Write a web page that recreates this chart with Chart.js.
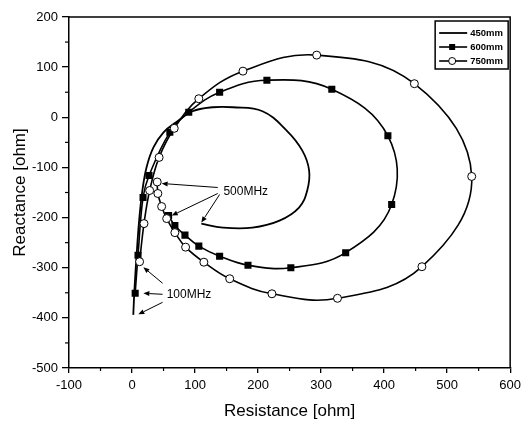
<!DOCTYPE html>
<html>
<head>
<meta charset="utf-8">
<script src="https://cdn.jsdelivr.net/npm/chart.js@4.4.0/dist/chart.umd.min.js"></script>
<style>
  html, body { margin: 0; padding: 0; background: #fff; }
</style>
</head>
<body>
<canvas id="chart" width="526" height="425"></canvas>
<script>
// 450mm: line only, 100MHz -> 500MHz
const x450 = [2, 4, 7, 11, 16, 23, 34, 50, 70, 96, 128, 160, 207, 245, 270, 281, 278, 265, 234, 191, 144, 110];
const y450 = [-394, -340, -280, -210, -150, -100, -60, -30, -10, 12, 20, 20, 12, -26, -66, -106, -146, -180, -206, -220, -220, -212];

// 600mm: filled squares
const x600 = [5, 9.5, 17.5, 27, 60, 90, 139, 214, 317, 406, 412, 339, 252, 184, 139, 106, 84, 68, 58];
const y600 = [-351, -275, -160, -116, -30, 10, 50, 74, 56, -37, -174, -270, -300, -295, -277, -257, -235, -216, -196];

// 750mm: open circles
const x750 = [12, 19, 28, 43, 67, 106, 176, 293, 448, 539, 460, 326, 222, 155, 114, 85, 68, 55, 47, 41, 40];
const y750 = [-288, -212, -146, -80, -22, 37, 92, 124, 67, -118, -298, -361, -352, -322, -289, -259, -230, -202, -178, -152, -129];

const seriesNames = ['450mm', '600mm', '750mm'];

// frequency callouts (data coords): [fromX, fromY, toX, toY]
const label500 = { text: '500MHz', x: 145, y: -148 };
const arrows500 = [[136, -140, 47, -132], [136, -152, 63, -196], [139, -154, 110, -210]];
const label100 = { text: '100MHz', x: 55, y: -353 };
const arrows100 = [[48.5, -331, 18, -299], [48.5, -353, 18, -351], [48.5, -369, 10, -393]];

const FONT = "'Liberation Sans', Arial, sans-serif";

function toPoints(xs, ys) {
    return xs.map((x, i) => ({ x: x, y: ys[i] }));
}

function drawArrow(ctx, x1, y1, x2, y2) {
    const ang = Math.atan2(y2 - y1, x2 - x1);
    const len = 6, half = 2.5;
    ctx.beginPath();
    ctx.moveTo(x1, y1);
    ctx.lineTo(x2 - Math.cos(ang) * len, y2 - Math.sin(ang) * len);
    ctx.stroke();
    ctx.beginPath();
    ctx.moveTo(x2, y2);
    ctx.lineTo(x2 - Math.cos(ang) * len - Math.sin(ang) * half, y2 - Math.sin(ang) * len + Math.cos(ang) * half);
    ctx.lineTo(x2 - Math.cos(ang) * len + Math.sin(ang) * half, y2 - Math.sin(ang) * len - Math.cos(ang) * half);
    ctx.closePath();
    ctx.fill();
}

const extras = {
    id: 'extras',
    afterDraw(chart) {
        const ctx = chart.ctx;
        const a = chart.chartArea;
        const sx = chart.scales.x, sy = chart.scales.y;
        ctx.save();
        ctx.strokeStyle = '#000';
        ctx.fillStyle = '#000';

        // top and right frame
        ctx.lineWidth = 1.5;
        ctx.beginPath();
        ctx.moveTo(a.left, a.top);
        ctx.lineTo(a.right, a.top);
        ctx.lineTo(a.right, a.bottom);
        ctx.stroke();

        // minor ticks
        ctx.lineWidth = 1.2;
        for (let v = -50; v < 600; v += 100) {
            const px = sx.getPixelForValue(v);
            ctx.beginPath(); ctx.moveTo(px, a.bottom); ctx.lineTo(px, a.bottom + 3); ctx.stroke();
        }
        for (let v = -450; v < 200; v += 100) {
            const py = sy.getPixelForValue(v);
            ctx.beginPath(); ctx.moveTo(a.left - 4, py); ctx.lineTo(a.left, py); ctx.stroke();
        }

        // callouts
        ctx.lineWidth = 1;
        ctx.font = '12px ' + FONT;
        ctx.textBaseline = 'middle';
        [[label500, arrows500], [label100, arrows100]].forEach(([lab, arr]) => {
            ctx.fillText(lab.text, sx.getPixelForValue(lab.x), sy.getPixelForValue(lab.y));
            arr.forEach(r => drawArrow(ctx,
                sx.getPixelForValue(r[0]), sy.getPixelForValue(r[1]),
                sx.getPixelForValue(r[2]), sy.getPixelForValue(r[3])));
        });

        // legend box
        const bx = a.right - 75, by = a.top + 4, bw = 73, bh = 48;
        ctx.lineWidth = 1.5;
        ctx.strokeRect(bx, by, bw, bh);
        ctx.font = 'bold 9.5px ' + FONT;
        chart.data.datasets.forEach((ds, i) => {
            const ly = by + 12 + i * 14;
            ctx.lineWidth = ds.borderWidth;
            ctx.beginPath(); ctx.moveTo(bx + 4, ly); ctx.lineTo(bx + 32, ly); ctx.stroke();
            if (ds.pointRadius > 0) {
                const mx = bx + 17;
                if (ds.pointStyle === 'rect') {
                    ctx.fillRect(mx - 3, ly - 3, 6, 6);
                } else {
                    ctx.beginPath(); ctx.arc(mx, ly, 3.5, 0, Math.PI * 2);
                    ctx.fillStyle = '#fff'; ctx.fill();
                    ctx.lineWidth = 1; ctx.stroke();
                    ctx.fillStyle = '#000';
                }
            }
            ctx.fillText(ds.label, bx + 35, ly + 0.5);
        });
        ctx.restore();
    }
};

new Chart(document.getElementById('chart'), {
    type: 'scatter',
    data: {
        datasets: [
            {
                label: seriesNames[0], data: toPoints(x450, y450), showLine: true,
                borderColor: '#000', borderWidth: 1.8, pointRadius: 0, tension: 0.4, order: 3
            },
            {
                label: seriesNames[1], data: toPoints(x600, y600), showLine: true,
                borderColor: '#000', borderWidth: 1.6, tension: 0.4, order: 2,
                pointStyle: 'rect', pointRadius: 5, pointBackgroundColor: '#000',
                pointBorderColor: '#000', pointBorderWidth: 0
            },
            {
                label: seriesNames[2], data: toPoints(x750, y750), showLine: true,
                borderColor: '#000', borderWidth: 1.6, tension: 0.4, order: 1,
                pointStyle: 'circle', pointRadius: 4, pointBackgroundColor: '#fff',
                pointBorderColor: '#000', pointBorderWidth: 1
            }
        ]
    },
    options: {
        responsive: false,
        animation: false,
        layout: { padding: { left: 0, top: 17, right: 14, bottom: 0 } },
        plugins: { legend: { display: false }, tooltip: { enabled: false } },
        scales: {
            x: {
                type: 'linear', min: -100, max: 600,
                ticks: { stepSize: 100, color: '#000', padding: 5, font: { size: 13, family: FONT } },
                grid: { drawOnChartArea: false, tickLength: 5, color: '#000', lineWidth: 1.3 },
                border: { color: '#000', width: 1.5 },
                title: { display: true, text: 'Resistance [ohm]', color: '#000', font: { size: 17, family: FONT }, padding: { top: 0, bottom: 3 } },
                afterFit(s) { s.height = 57; }
            },
            y: {
                type: 'linear', min: -500, max: 200,
                ticks: { stepSize: 100, color: '#000', padding: 4, font: { size: 13, family: FONT } },
                grid: { drawOnChartArea: false, tickLength: 7, color: '#000', lineWidth: 1.3 },
                border: { color: '#000', width: 1.5 },
                title: { display: true, text: 'Reactance [ohm]', color: '#000', font: { size: 17, family: FONT }, padding: { top: 10, bottom: 0 } },
                afterFit(s) { s.width = 69; }
            }
        }
    },
    plugins: [extras]
});
</script>
</body>
</html>
